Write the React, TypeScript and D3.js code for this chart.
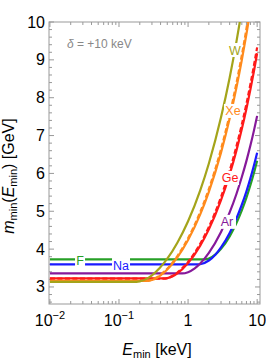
import React from 'react'
import * as d3 from 'd3'

// threshold energy E_min [keV] and minimum DM mass [GeV]
const E_F = [0.01, 1.74, 2, 2.5, 3, 4, 5, 6, 7, 8, 9, 10]
const M_F = [3.729, 3.729, 3.749, 3.859, 4.006, 4.337, 4.683, 5.024, 5.36, 5.693, 6.016, 6.335]

const E_NA = [0.01, 1.438, 1.5, 2, 2.5, 3, 4, 5, 6, 7, 8, 9, 10]
const M_NA = [3.597, 3.597, 3.601, 3.699, 3.86, 4.046, 4.428, 4.804, 5.172, 5.527, 5.876, 6.214, 6.544]

const E_AR = [0.01, 0.827, 1, 1.25, 1.5, 2, 3, 4, 5, 6, 7, 8, 9, 10]
const M_AR = [3.357, 3.357, 3.391, 3.491, 3.62, 3.902, 4.455, 4.969, 5.45, 5.904, 6.331, 6.742, 7.137, 7.52]

const E_GE = [0.01, 0.456, 0.5, 0.6, 0.7, 1, 1.5, 2, 3, 4, 5, 6, 7, 8, 9, 10]
const M_GE = [3.227, 3.227, 3.235, 3.284, 3.359, 3.63, 4.092, 4.522, 5.293, 5.975, 6.596, 7.171, 7.709, 8.22, 8.707, 9.176]
const E_GE2 = [0.01, 0.435, 0.5, 0.6, 0.7, 1, 1.5, 2, 3, 4, 5, 6, 7, 8, 9, 10]
const M_GE2 = [3.22, 3.22, 3.235, 3.298, 3.381, 3.664, 4.143, 4.586, 5.377, 6.071, 6.707, 7.292, 7.841, 8.36, 8.857, 9.33]

const E_XE = [0.01, 0.252, 0.3, 0.35, 0.4, 0.5, 0.7, 1, 1.5, 2, 3, 4, 5, 6, 7, 7.5]
const M_XE = [3.16, 3.16, 3.185, 3.237, 3.305, 3.459, 3.781, 4.239, 4.918, 5.515, 6.55, 7.448, 8.253, 8.993, 9.682, 10.01]
const E_XE2 = [0.01, 0.243, 0.3, 0.35, 0.4, 0.5, 0.7, 1, 1.5, 2, 3, 4, 5, 6, 7, 7.3]
const M_XE2 = [3.157, 3.157, 3.191, 3.249, 3.323, 3.484, 3.818, 4.286, 4.979, 5.586, 6.641, 7.552, 8.37, 9.122, 9.821, 10.03]

const E_W = [0.01, 0.18, 0.2, 0.25, 0.3, 0.5, 0.7, 1, 1.5, 2, 3, 4, 5, 5.5, 5.7]
const M_W = [3.136, 3.136, 3.147, 3.213, 3.309, 3.748, 4.17, 4.737, 5.553, 6.263, 7.481, 8.529, 9.468, 9.906, 10.076]

// where each element name sits (E, m)
const LABELS = ['F', 'Na', 'Ar', 'Ge', 'Xe', 'W']
const LABEL_E = [0.0273, 0.107, 3.66, 4.05, 4.47, 4.78]
const LABEL_M = [3.71, 3.58, 4.72, 5.88, 7.65, 9.26]

const X_MAJOR = [0.01, 0.1, 1, 10]
const X_LABELS = ['-2', '-1', '1', '10']
const Y_MAJOR = [3, 4, 5, 6, 7, 8, 9, 10]

const COLORS: Record<string, string> = {
  F: '#27a027',
  Na: '#1a1aff',
  Ar: '#86199a',
  Ge: '#ff1a1a',
  Xe: '#ff8a1c',
  W: '#a4a41a',
}

const width = 266
const height = 360
const left = 49
const right = 260
const top = 22
const bottom = 304

const zip = (e: number[], m: number[]) => e.map((v, i) => [v, m[i]] as [number, number])

export default function App() {
  const x = d3.scaleLog().domain([0.0097, 11]).range([left, right])
  const y = d3.scaleLinear().domain([2.55, 10]).range([bottom, top])

  const line = d3
    .line<[number, number]>()
    .x(d => x(d[0]))
    .y(d => y(d[1]))
    .curve(d3.curveMonotoneX)

  const curves = [
    { name: 'F', d: zip(E_F, M_F) },
    { name: 'Na', d: zip(E_NA, M_NA) },
    { name: 'Ar', d: zip(E_AR, M_AR) },
    { name: 'Ge', d: zip(E_GE, M_GE) },
    { name: 'Ge', d: zip(E_GE2, M_GE2), dashed: true },
    { name: 'Xe', d: zip(E_XE, M_XE) },
    { name: 'Xe', d: zip(E_XE2, M_XE2), dashed: true },
    { name: 'W', d: zip(E_W, M_W) },
  ]

  const xMinor = x.ticks().filter(t => !X_MAJOR.some(m => Math.abs(m - t) < 1e-9))
  const yMinor = d3.range(2.6, 10.001, 0.2).filter(t => Math.abs(t - Math.round(t)) > 1e-6)

  const frame = '#999'
  const font = '"Liberation Sans", Arial, sans-serif'

  return (
    <div style={{ position: 'absolute', left: 0, top: 0 }}>
      <svg width={width} height={height} style={{ display: 'block', fontFamily: font }}>
        <defs>
          <clipPath id="plot">
            <rect x={left} y={top} width={right - left} height={bottom - top} />
          </clipPath>
        </defs>
        <rect width={width} height={height} fill="white" />

        {/* frame ticks, pointing inward on all four sides */}
        <g stroke={frame} strokeWidth={1}>
          {X_MAJOR.filter(t => x(t) <= right).map(t => (
            <g key={'xM' + t}>
              <line x1={x(t)} x2={x(t)} y1={bottom} y2={bottom - 5} />
              <line x1={x(t)} x2={x(t)} y1={top} y2={top + 5} />
            </g>
          ))}
          {xMinor.map(t => (
            <g key={'xm' + t}>
              <line x1={x(t)} x2={x(t)} y1={bottom} y2={bottom - 3} />
              <line x1={x(t)} x2={x(t)} y1={top} y2={top + 3} />
            </g>
          ))}
          {Y_MAJOR.map(t => (
            <g key={'yM' + t}>
              <line x1={left} x2={left + 5} y1={y(t)} y2={y(t)} />
              <line x1={right} x2={right - 5} y1={y(t)} y2={y(t)} />
            </g>
          ))}
          {yMinor.map(t => (
            <g key={'ym' + t}>
              <line x1={left} x2={left + 3} y1={y(t)} y2={y(t)} />
              <line x1={right} x2={right - 3} y1={y(t)} y2={y(t)} />
            </g>
          ))}
        </g>
        <rect x={left} y={top} width={right - left} height={bottom - top} fill="none" stroke={frame} strokeWidth={1} />

        <g clipPath="url(#plot)" fill="none" strokeWidth={2.2}>
          {curves.map((c, i) => (
            <path
              key={i}
              d={line(c.d) || ''}
              stroke={COLORS[c.name]}
              strokeDasharray={c.dashed ? '5,2.5' : undefined}
            />
          ))}
        </g>

        {LABELS.map((name, i) => {
          const cx = x(LABEL_E[i])
          const cy = y(LABEL_M[i])
          const w = name.length * 8 + 2
          return (
            <g key={name}>
              <rect x={cx - w / 2} y={cy - 7} width={w} height={14} fill="white" />
              <text x={cx} y={cy + 4.5} textAnchor="middle" fontSize={12.5} fill={COLORS[name]}>
                {name}
              </text>
            </g>
          )
        })}

        <text x={67} y={48} fontSize={12} fill="#888">
          <tspan fontStyle="italic">δ</tspan> = +10 keV
        </text>

        {/* tick labels */}
        <g fontSize={16} fill="black">
          {Y_MAJOR.map(t => (
            <text key={t} x={45} y={y(t) + 5.5} textAnchor="end">
              {t}
            </text>
          ))}
          {X_MAJOR.map((t, i) => (
            <text key={t} x={x(t)} y={326} textAnchor="middle">
              {X_LABELS[i].startsWith('-') ? (
                <>
                  10
                  <tspan fontSize={11} dy={-7}>
                    {X_LABELS[i].replace('-', '\u2212')}
                  </tspan>
                </>
              ) : (
                X_LABELS[i]
              )}
            </text>
          ))}
        </g>

        <text x={157} y={355} textAnchor="middle" fontSize={16}>
          <tspan fontStyle="italic">E</tspan>
          <tspan fontSize={11} dy={3}>min</tspan>
          <tspan dy={-3}> [keV]</tspan>
        </text>

        <text transform="translate(14,176) rotate(-90)" textAnchor="middle" fontSize={16}>
          <tspan fontStyle="italic">m</tspan>
          <tspan fontSize={11} dy={3}>min</tspan>
          <tspan dy={-3}>(</tspan>
          <tspan fontStyle="italic">E</tspan>
          <tspan fontSize={11} dy={3}>min</tspan>
          <tspan dy={-3}>) [GeV]</tspan>
        </text>
      </svg>
    </div>
  )
}
